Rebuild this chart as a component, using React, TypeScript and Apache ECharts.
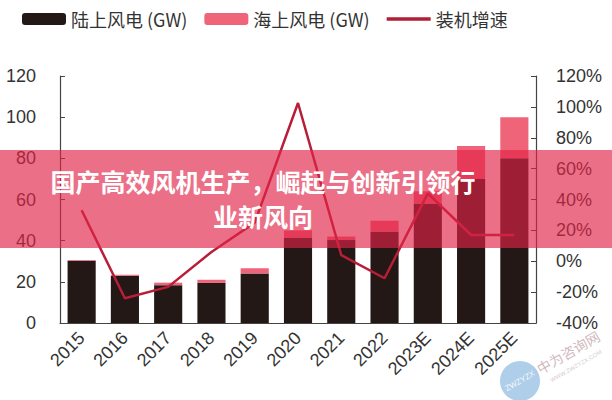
import React, { useEffect, useRef } from "react";
import * as echarts from "echarts";

const categories = ["2015", "2016", "2017", "2018", "2019", "2020", "2021", "2022", "2023E", "2024E", "2025E"];
const onshore = [30.2, 22.9, 18.4, 19.5, 24.0, 41.5, 40.3, 44.4, 58, 70, 80];
const offshore = [0.4, 0.6, 1.2, 1.5, 2.6, 3.5, 1.7, 5.3, 6, 16, 20];
const growth = [33, -24, -16.6, 6, 25, 102.5, 4, -11, 44, 17, 17];
const seriesNames = ["陆上风电 (GW)", "海上风电 (GW)", "装机增速"];
const bannerLines = ["国产高效风机生产，崛起与创新引领行", "业新风向"];

const FONT = '"Liberation Sans", Arial, "Noto Sans CJK SC", sans-serif';
const CJK = '"Noto Sans CJK SC", "Liberation Sans", sans-serif';

export default function App() {
  const ref = useRef<HTMLDivElement>(null);
  useEffect(() => {
    if (!ref.current) return;
    const chart = echarts.init(ref.current, null, { renderer: "svg" });
    chart.setOption({
      animation: false,
      backgroundColor: "#ffffff",
      textStyle: { fontFamily: FONT },
      legend: {
        left: 17,
        top: 5,
        itemWidth: 44,
        itemHeight: 12,
        itemGap: 17,
        textStyle: { fontSize: 18, color: "#333", fontFamily: CJK },
        data: [
          { name: seriesNames[0] },
          { name: seriesNames[1] },
          { name: seriesNames[2], icon: "path://M0,0H44V3.5H0Z", itemStyle: { color: "#b01f35" } },
        ],
      },
      grid: { left: 60, right: 76, top: 76, bottom: 77 },
      xAxis: {
        type: "category",
        data: categories,
        boundaryGap: true,
        axisLine: { lineStyle: { color: "#444", width: 1.2 } },
        axisTick: { inside: true, length: 5, lineStyle: { color: "#444" } },
        axisLabel: { rotate: 45, fontSize: 18, color: "#333", margin: 12, interval: 0 },
      },
      yAxis: [
        {
          type: "value",
          min: 0,
          max: 120,
          interval: 20,
          splitLine: { show: false },
          axisLine: { show: true, lineStyle: { color: "#444", width: 1.2 } },
          axisTick: { show: true, inside: true, length: 5, lineStyle: { color: "#444" } },
          axisLabel: { fontSize: 18, color: "#333", margin: 24 },
        },
        {
          type: "value",
          min: -40,
          max: 120,
          interval: 20,
          splitLine: { show: false },
          axisLine: { show: true, lineStyle: { color: "#444", width: 1.2 } },
          axisTick: { show: true, inside: true, length: 5, lineStyle: { color: "#444" } },
          axisLabel: { fontSize: 18, color: "#333", margin: 20, formatter: "{value}%" },
        },
      ],
      series: [
        {
          name: seriesNames[0],
          type: "bar",
          stack: "total",
          barWidth: "65%",
          data: onshore,
          itemStyle: { color: "#231815" },
        },
        {
          name: seriesNames[1],
          type: "bar",
          stack: "total",
          data: offshore,
          itemStyle: { color: "#f0647a" },
        },
        {
          name: seriesNames[2],
          type: "line",
          yAxisIndex: 1,
          data: growth,
          symbol: "none",
          lineStyle: { color: "#b81e38", width: 2.5 },
          itemStyle: { color: "#b81e38" },
          z: 5,
        },
      ],
      graphic: [
        {
          type: "rect",
          shape: { x: 0, y: 150, width: 612, height: 98 },
          style: { fill: "rgba(225,35,70,0.65)" },
          z: 100,
        },
        {
          type: "text",
          x: 263,
          y: 181,
          z: 101,
          style: {
            text: bannerLines[0],
            fill: "#ffffff",
            fontSize: 25,
            fontWeight: "bold",
            fontFamily: CJK,
            align: "center",
            verticalAlign: "middle",
          },
        },
        {
          type: "text",
          x: 263,
          y: 216,
          z: 101,
          style: {
            text: bannerLines[1],
            fill: "#ffffff",
            fontSize: 25,
            fontWeight: "bold",
            fontFamily: CJK,
            align: "center",
            verticalAlign: "middle",
          },
        },
        {
          type: "circle",
          shape: { cx: 520, cy: 381, r: 20 },
          style: { fill: "rgba(110,165,215,0.55)" },
          z: 90,
        },
        {
          type: "text",
          x: 520,
          y: 381,
          rotation: Math.PI / 6,
          z: 91,
          style: {
            text: "ZWZYZX",
            fill: "rgba(255,255,255,0.9)",
            fontSize: 8,
            fontFamily: FONT,
            align: "center",
            verticalAlign: "middle",
          },
        },
        {
          type: "text",
          x: 568,
          y: 352,
          rotation: Math.PI / 6,
          z: 91,
          style: {
            text: "中为咨询网",
            fill: "rgba(170,120,130,0.55)",
            fontSize: 14,
            fontFamily: CJK,
            align: "center",
            verticalAlign: "middle",
          },
        },
        {
          type: "text",
          x: 576,
          y: 366,
          rotation: Math.PI / 6,
          z: 91,
          style: {
            text: "WWW.ZWZYZX.COM",
            fill: "rgba(170,150,160,0.5)",
            fontSize: 6,
            fontFamily: FONT,
            align: "center",
            verticalAlign: "middle",
          },
        },
      ],
    });
    return () => chart.dispose();
  }, []);
  return <div ref={ref} style={{ position: "fixed", left: 0, top: 0, width: 612, height: 400 }} />;
}
